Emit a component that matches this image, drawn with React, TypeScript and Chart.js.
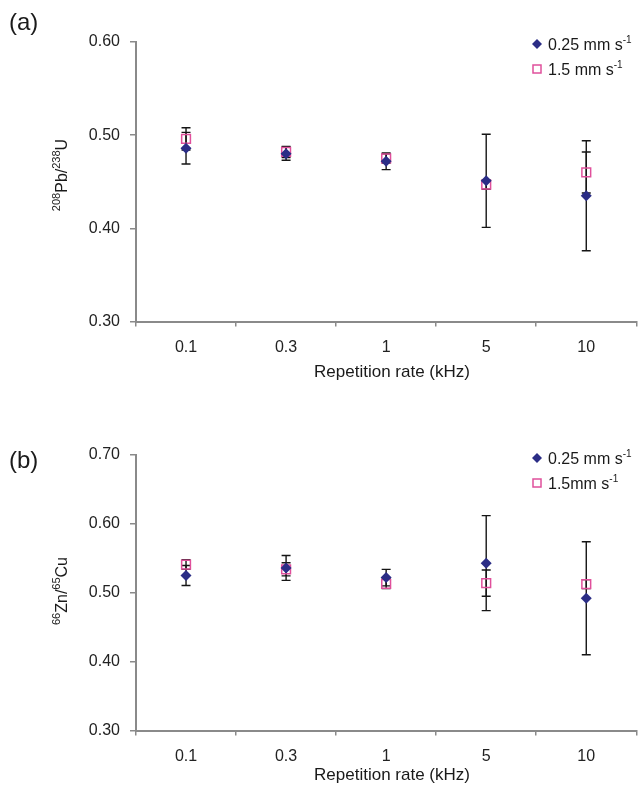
import React, { useEffect, useRef } from 'react';
import { Chart, registerables } from 'chart.js';

Chart.register(...registerables);

const FONT = "'Liberation Sans', Arial, Helvetica, sans-serif";

// ---- data ----
const categories = ['0.1', '0.3', '1', '5', '10'];

const pbSlow = [0.486, 0.480, 0.472, 0.451, 0.435];
const pbSlowErr = [0.017, 0.007, 0.009, 0.050, 0.059];
const pbFast = [0.496, 0.482, 0.475, 0.447, 0.460];
const pbFastErr = [0.012, 0.006, 0.005, 0.005, 0.022];

const znSlow = [0.525, 0.536, 0.522, 0.543, 0.492];
const znSlowErr = [0.0145, 0.018, 0.012, 0.069, 0.082];
const znFast = [0.541, 0.534, 0.513, 0.514, 0.5125];
const znFastErr = [0.007, 0.0095, 0.007, 0.019, 0.0065];

const yTicksA = [0.3, 0.4, 0.5, 0.6];
const yTicksB = [0.3, 0.4, 0.5, 0.6, 0.7];

const NAVY = '#2b2d86';
const PINK = '#e0509c';
const AXIS = '#8a8a8a';

const CANVAS_W = 644;

type Part = { t: string; sup?: boolean };

function partsWidth(ctx: CanvasRenderingContext2D, parts: Part[], size: number, supSize: number) {
  let w = 0;
  for (const p of parts) {
    ctx.font = `${p.sup ? supSize : size}px ${FONT}`;
    w += ctx.measureText(p.t).width;
  }
  return w;
}

function drawParts(ctx: CanvasRenderingContext2D, parts: Part[], x: number, y: number, size: number, supSize: number, supRaise: number) {
  let cx = x;
  ctx.textBaseline = 'alphabetic';
  ctx.textAlign = 'left';
  for (const p of parts) {
    ctx.font = `${p.sup ? supSize : size}px ${FONT}`;
    ctx.fillText(p.t, cx, p.sup ? y - supRaise : y);
    cx += ctx.measureText(p.t).width;
  }
}

const errorBarPlugin = {
  id: 'errorBars',
  beforeDatasetsDraw(chart: any) {
    const ctx = chart.ctx as CanvasRenderingContext2D;
    const ys = chart.scales.y;
    chart.data.datasets.forEach((ds: any, i: number) => {
      const meta = chart.getDatasetMeta(i);
      const errs: number[] = ds.errors;
      meta.data.forEach((pt: any, j: number) => {
        const v = ds.data[j] as number;
        const e = errs[j];
        const x = pt.x;
        const yt = ys.getPixelForValue(v + e);
        const yb = ys.getPixelForValue(v - e);
        ctx.save();
        ctx.strokeStyle = '#151515';
        ctx.lineWidth = 1.4;
        ctx.beginPath();
        ctx.moveTo(x, yt);
        ctx.lineTo(x, yb);
        ctx.moveTo(x - 4.5, yt);
        ctx.lineTo(x + 4.5, yt);
        ctx.moveTo(x - 4.5, yb);
        ctx.lineTo(x + 4.5, yb);
        ctx.stroke();
        ctx.restore();
      });
    });
  },
};

function makeDecor(cfg: any) {
  return {
    id: 'decor',
    afterDraw(chart: any) {
      const ctx = chart.ctx as CanvasRenderingContext2D;
      ctx.save();
      ctx.fillStyle = '#1a1a1a';
      // panel label
      ctx.font = `24px ${FONT}`;
      ctx.textAlign = 'left';
      ctx.textBaseline = 'alphabetic';
      ctx.fillText(cfg.panelLabel, 9, cfg.panelLabelY);

      // y title (rotated)
      ctx.save();
      ctx.translate(67, cfg.yTitleCenter);
      ctx.rotate(-Math.PI / 2);
      const w = partsWidth(ctx, cfg.yTitle, 16, 11);
      drawParts(ctx, cfg.yTitle, -w / 2, 0, 16, 11, 7);
      ctx.restore();

      // x title
      ctx.font = `17px ${FONT}`;
      ctx.textAlign = 'center';
      ctx.textBaseline = 'middle';
      ctx.fillText('Repetition rate (kHz)', 392, cfg.xTitleY);

      // legend
      const mx = 537;
      ctx.fillStyle = NAVY;
      ctx.beginPath();
      ctx.moveTo(mx, cfg.legendY1 - 5);
      ctx.lineTo(mx + 5, cfg.legendY1);
      ctx.lineTo(mx, cfg.legendY1 + 5);
      ctx.lineTo(mx - 5, cfg.legendY1);
      ctx.closePath();
      ctx.fill();
      ctx.strokeStyle = PINK;
      ctx.lineWidth = 1.5;
      ctx.strokeRect(mx - 4, cfg.legendY2 - 4, 8, 8);
      ctx.fillStyle = '#1a1a1a';
      drawParts(ctx, cfg.legendSlow, 548, cfg.legendY1 + 6, 16, 10, 7);
      drawParts(ctx, cfg.legendFast, 548, cfg.legendY2 + 6, 16, 10, 7);
      ctx.restore();
    },
  };
}

function Panel({ cfg }: { cfg: any }) {
  const ref = useRef<HTMLCanvasElement | null>(null);
  useEffect(() => {
    if (!ref.current) return;
    const xAxisHeight = cfg.height - cfg.bottomPx;
    const chart = new Chart(ref.current, {
      type: 'line',
      data: {
        labels: categories,
        datasets: [
          {
            label: 'slow',
            data: cfg.slow,
            errors: cfg.slowErr,
            showLine: false,
            pointStyle: 'rectRot',
            pointRadius: 5.5,
            pointBackgroundColor: NAVY,
            pointBorderColor: NAVY,
            pointBorderWidth: 0,
          } as any,
          {
            label: 'fast',
            data: cfg.fast,
            errors: cfg.fastErr,
            showLine: false,
            pointStyle: 'rect',
            pointRadius: 6.2,
            pointBackgroundColor: 'rgba(255,255,255,0)',
            pointBorderColor: PINK,
            pointBorderWidth: 1.5,
          } as any,
        ],
      },
      options: {
        responsive: false,
        maintainAspectRatio: false,
        animation: false,
        events: [],
        layout: { padding: { left: 0, right: 2, top: cfg.top, bottom: 0 } },
        plugins: { legend: { display: false }, tooltip: { enabled: false }, title: { display: false } },
        scales: {
          x: {
            type: 'category',
            offset: true,
            grid: { offset: true, drawOnChartArea: false, drawTicks: true, tickLength: 5, color: AXIS, lineWidth: 1.5 },
            border: { color: AXIS, width: 2 },
            ticks: { font: { family: FONT, size: 16 }, color: '#222', padding: 11, maxRotation: 0, autoSkip: false },
            afterFit: (s: any) => {
              s.height = xAxisHeight;
              s.paddingLeft = 0;
              s.paddingRight = 0;
            },
          },
          y: {
            type: 'linear',
            min: cfg.yMin,
            max: cfg.yMax,
            grid: { drawOnChartArea: false, drawTicks: true, tickLength: 6, color: AXIS, lineWidth: 1.5 },
            border: { color: AXIS, width: 2 },
            ticks: {
              font: { family: FONT, size: 16 },
              color: '#222',
              padding: 10,
              callback: (v: any) => Number(v).toFixed(2),
            },
            afterBuildTicks: (s: any) => {
              s.ticks = cfg.yTicks.map((v: number) => ({ value: v }));
            },
            afterFit: (s: any) => {
              s.width = 136;
              s.paddingTop = 0;
              s.paddingBottom = 0;
            },
          },
        },
      } as any,
      plugins: [errorBarPlugin, makeDecor(cfg)],
    });
    return () => chart.destroy();
  }, [cfg]);
  return (
    <canvas
      ref={ref}
      width={CANVAS_W}
      height={cfg.height}
      style={{ display: 'block', width: CANVAS_W, height: cfg.height }}
    />
  );
}

const cfgA: any = {
  height: 395,
  top: 42,
  bottomPx: 321.5,
  yMin: 0.3,
  yMax: 0.6,
  yTicks: yTicksA,
  slow: pbSlow,
  slowErr: pbSlowErr,
  fast: pbFast,
  fastErr: pbFastErr,
  panelLabel: '(a)',
  panelLabelY: 30,
  yTitle: [{ t: '208', sup: true }, { t: 'Pb/' }, { t: '238', sup: true }, { t: 'U' }],
  yTitleCenter: 175,
  xTitleY: 372,
  legendY1: 44,
  legendY2: 69,
  legendSlow: [{ t: '0.25 mm s' }, { t: '-1', sup: true }],
  legendFast: [{ t: '1.5 mm s' }, { t: '-1', sup: true }],
};

const cfgB: any = {
  height: 396,
  top: 60,
  bottomPx: 335.5,
  yMin: 0.3,
  yMax: 0.7,
  yTicks: yTicksB,
  slow: znSlow,
  slowErr: znSlowErr,
  fast: znFast,
  fastErr: znFastErr,
  panelLabel: '(b)',
  panelLabelY: 73,
  yTitle: [{ t: '66', sup: true }, { t: 'Zn/' }, { t: '65', sup: true }, { t: 'Cu' }],
  yTitleCenter: 196,
  xTitleY: 380,
  legendY1: 63,
  legendY2: 88,
  legendSlow: [{ t: '0.25 mm s' }, { t: '-1', sup: true }],
  legendFast: [{ t: '1.5mm s' }, { t: '-1', sup: true }],
};

export default function App() {
  return (
    <div
      style={{
        position: 'absolute',
        left: 0,
        top: 0,
        width: 638,
        height: 791,
        overflow: 'hidden',
        background: '#fff',
      }}
    >
      <Panel cfg={cfgA} />
      <Panel cfg={cfgB} />
    </div>
  );
}
